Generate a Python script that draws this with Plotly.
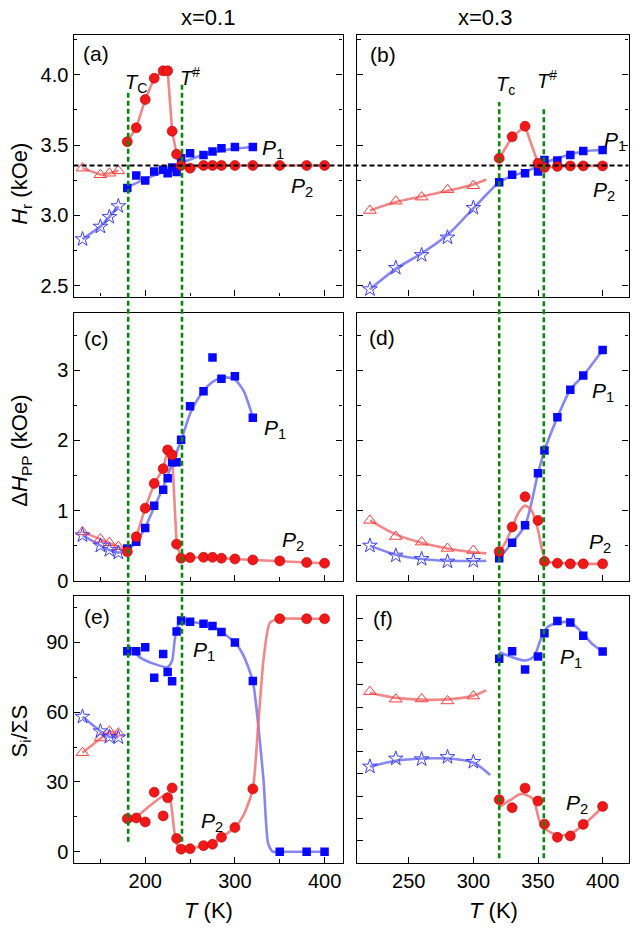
import plotly.graph_objects as go

# ================= DATA =================
# ---- x = 0.1 ----
T1 = [180, 190, 200, 210, 220, 225, 230, 235, 240, 250, 265, 275, 285, 300, 320, 350, 380, 400]
T1_P1 = T1[:15]
T1_low = [130, 150, 160, 170]

Hr_P2_01 = [3.524, 3.623, 3.824, 3.975, 4.028, 4.028, 3.599, 3.435, 3.355, 3.336, 3.355, 3.355, 3.355, 3.355, 3.355, 3.355, 3.355, 3.355]
Hr_P1_01 = [3.195, 3.284, 3.249, 3.313, 3.324, 3.299, 3.341, 3.308, 3.406, 3.442, 3.430, 3.454, 3.477, 3.486, 3.486]
Hr_tri_01 = [3.336, 3.289, 3.300, 3.317]
Hr_star_01 = [2.831, 2.920, 2.989, 3.066]
Hr_P1_fit_T01 = [180, 200, 220, 240, 260, 280, 300, 320]
Hr_P1_fit_01 = [3.20, 3.26, 3.31, 3.37, 3.42, 3.455, 3.475, 3.487]

dH_P2_01 = [0.414, 0.625, 1.034, 1.386, 1.597, 1.865, 1.794, 0.521, 0.320, 0.329, 0.333, 0.333, 0.320, 0.310, 0.296, 0.282, 0.259, 0.249]
dH_P1_01 = [0.46, 0.555, 0.752, 1.07, 1.296, 1.461, 1.69, 1.69, 2.01, 2.489, 2.70, 3.183, 2.879, 2.915, 2.324]
dH_tri_01 = [0.696, 0.592, 0.541, 0.485]
dH_star_01 = [0.648, 0.50, 0.437, 0.40]
dH_P1_fit_T01 = [180, 190, 200, 210, 220, 230, 240, 250, 260, 270, 280, 290, 300, 310, 320]
dH_P1_fit_01 = [0.44, 0.55, 0.76, 1.05, 1.33, 1.67, 2.0, 2.38, 2.62, 2.78, 2.87, 2.9, 2.87, 2.7, 2.33]

S_P1_01 = [86.2, 86.2, 87.9, 74.8, 85.0, 77.3, 73.3, 94.7, 99.5, 98.9, 98.1, 97.1, 94.5, 90.0, 73.4, 0.0, 0.0, 0.0]
S_P2_01 = [14.2, 14.5, 12.8, 25.6, 15.4, 23.2, 27.4, 5.7, 1.1, 1.3, 2.6, 3.2, 6.2, 10.4, 27.0, 100.2, 100.2, 100.2]
S_tri_01 = [42.6, 48.9, 51.8, 51.0]
S_star_01 = [58.1, 51.8, 49.4, 49.2]
S_P1_fit_T01 = [180, 194, 210, 225, 230, 233, 237, 240, 250, 265, 275, 285, 300, 310, 320, 326, 332, 337, 342, 350, 380, 400]
S_P1_fit_01 = [89.3, 83.6, 80.8, 79.4, 82.2, 91.4, 97.8, 99.5, 98.9, 98.0, 97.0, 94.5, 90.0, 84.0, 73.4, 54.6, 30.5, 3.6, 0.0, 0.0, 0.0, 0.0]
S_P2_fit_T01 = [180, 195, 210, 225, 229, 232, 235, 240, 250, 265, 275, 285, 300, 310, 320, 326, 332, 339, 350, 380, 400]
S_P2_fit_01 = [12.1, 16.5, 21.3, 24.9, 20.0, 10.0, 3.6, 1.0, 1.3, 2.6, 3.5, 6.2, 10.4, 16.0, 27.0, 54.6, 82.9, 98.5, 100.2, 100.2, 100.2]

# ---- x = 0.3 ----
T3 = [320, 330, 340, 350, 355, 365, 375, 385, 400]
T3_low = [220, 240, 260, 280, 300]
T3_low_fit = [220, 240, 260, 280, 300, 310]

Hr_P2_03 = [3.406, 3.559, 3.634, 3.371, 3.341, 3.348, 3.352, 3.352, 3.352]
Hr_P1_03 = [3.235, 3.289, 3.300, 3.313, 3.394, 3.390, 3.430, 3.458, 3.465]
Hr_tri_03 = [3.035, 3.101, 3.130, 3.183, 3.211]
Hr_star_03 = [2.475, 2.627, 2.718, 2.843, 3.054]
Hr_tri_fit_03 = [3.035, 3.095, 3.135, 3.175, 3.22, 3.255]
Hr_P1_fit_T03 = [220, 240, 260, 280, 300, 320, 330, 340, 350, 360, 370, 380, 390, 400]
Hr_P1_fit_03 = [2.475, 2.62, 2.73, 2.86, 3.05, 3.235, 3.28, 3.31, 3.35, 3.39, 3.42, 3.445, 3.46, 3.465]

dH_P1_03 = [0.32, 0.541, 0.789, 1.531, 1.855, 2.329, 2.724, 2.925, 3.29]
dH_P2_03 = [0.414, 0.766, 1.197, 0.859, 0.273, 0.249, 0.24, 0.24, 0.24]
dH_tri_03 = [0.86, 0.63, 0.55, 0.46, 0.43]
dH_star_03 = [0.50, 0.358, 0.31, 0.273, 0.282]
dH_tri_fit_03 = [0.86, 0.66, 0.54, 0.46, 0.405, 0.39]
dH_star_fit_03 = [0.50, 0.37, 0.31, 0.285, 0.28, 0.285]
dH_P2_fit_T03 = [319, 325, 330, 335, 340, 345, 350, 353, 356, 360, 370, 380, 390, 400]
dH_P2_fit_03 = [0.38, 0.55, 0.76, 0.97, 1.07, 1.0, 0.72, 0.45, 0.29, 0.26, 0.25, 0.245, 0.24, 0.24]

S_P1_03 = [81.8, 85.2, 76.9, 82.8, 93.2, 98.8, 98.1, 92.1, 85.0]
S_P2_03 = [18.4, 14.8, 23.6, 17.8, 7.4, 1.5, 2.1, 7.3, 15.4]
S_tri_03 = [67.0, 63.6, 63.7, 62.8, 65.0]
S_star_03 = [33.3, 36.9, 36.6, 37.6, 35.4]
S_tri_fit_03 = [66.5, 64.2, 63.4, 63.5, 65.2, 67.7]
S_star_fit_T03 = [220, 240, 260, 280, 300, 313]
S_star_fit_03 = [33.3, 35.9, 36.9, 36.9, 35.1, 29.5]
S_P1_fit_T03 = [320, 330, 340, 347, 352, 357, 365, 375, 385, 392, 400]
S_P1_fit_03 = [84.7, 82.5, 81.0, 83.0, 90.4, 95.9, 97.8, 98.1, 92.9, 88.4, 85.0]
S_P2_fit_T03 = [320, 330, 337, 346, 351, 355, 364, 374, 385, 400]
S_P2_fit_03 = [15.1, 18.8, 21.0, 18.8, 9.2, 5.5, 2.8, 2.8, 7.0, 15.1]

T_C_01, T_H_01 = 181, 241
T_C_03, T_H_03 = 320, 354.5
H_RES = 3.355

# ================= FIGURE =================
W, H = 635, 947
FONT = "Liberation Sans, Arial, sans-serif"
RED = "#f01818"
BLUE = "#0808ff"
RLINE = "rgba(240,105,105,0.8)"
BLINE = "rgba(105,105,240,0.8)"
TRI = "#ff3c3c"
STAR = "#3c3cff"

def px(x, y):
    return x / W, 1 - y / H

fig = go.Figure()

def line(xs, ys, color, ax, shape="linear", smoothing=0.8):
    xa, ya = ax
    fig.add_trace(go.Scatter(x=xs, y=ys, mode="lines", xaxis=xa, yaxis=ya,
                             line=dict(color=color, width=2.6, shape=shape, smoothing=smoothing),
                             showlegend=False, hoverinfo="skip"))

def pts(xs, ys, kind, ax):
    xa, ya = ax
    if kind == "circ":
        m = dict(symbol="circle", size=10, color=RED, line=dict(color="#c00000", width=0.6))
    elif kind == "sq":
        m = dict(symbol="square", size=8.5, color=BLUE, line=dict(width=0))
    elif kind == "tri":
        m = dict(symbol="triangle-up-open", size=11, color=TRI, line=dict(color=TRI, width=1))
    else:
        m = dict(symbol="star-open", size=11, color=STAR, line=dict(color=STAR, width=1))
    fig.add_trace(go.Scatter(x=xs, y=ys, mode="markers", xaxis=xa, yaxis=ya, marker=m,
                             showlegend=False, hoverinfo="skip"))

A = ("x", "y"); B = ("x2", "y2"); C = ("x3", "y3"); D = ("x4", "y4"); E = ("x5", "y5"); F = ("x6", "y6")

# (a)
line(T1_low, Hr_tri_01, RLINE, A)
line(T1_low, Hr_star_01, BLINE, A)
line(T1, Hr_P2_01, RLINE, A)
line(Hr_P1_fit_T01, Hr_P1_fit_01, BLINE, A, "spline")
pts(T1_low, Hr_tri_01, "tri", A)
pts(T1_low, Hr_star_01, "star", A)
pts(T1_P1, Hr_P1_01, "sq", A)
pts(T1, Hr_P2_01, "circ", A)

# (b)
line(T3_low_fit, Hr_tri_fit_03, RLINE, B, "spline")
line(Hr_P1_fit_T03, Hr_P1_fit_03, BLINE, B, "spline")
line(T3, Hr_P2_03, RLINE, B)
pts(T3_low, Hr_tri_03, "tri", B)
pts(T3_low, Hr_star_03, "star", B)
pts(T3, Hr_P1_03, "sq", B)
pts(T3, Hr_P2_03, "circ", B)

# (c)
line(T1_low + T1, dH_tri_01 + dH_P2_01, RLINE, C)
line(T1_low + dH_P1_fit_T01, dH_star_01 + dH_P1_fit_01, BLINE, C, "spline", 0.6)
pts(T1_low, dH_tri_01, "tri", C)
pts(T1_low, dH_star_01, "star", C)
pts(T1_P1, dH_P1_01, "sq", C)
pts(T1, dH_P2_01, "circ", C)

# (d)
line(T3_low_fit, dH_tri_fit_03, RLINE, D, "spline")
line(T3_low_fit, dH_star_fit_03, BLINE, D, "spline")
line(T3, dH_P1_03, BLINE, D, "spline")
line(dH_P2_fit_T03, dH_P2_fit_03, RLINE, D, "spline")
pts(T3_low, dH_tri_03, "tri", D)
pts(T3_low, dH_star_03, "star", D)
pts(T3, dH_P1_03, "sq", D)
pts(T3, dH_P2_03, "circ", D)

# (e)
line(T1_low, S_tri_01, RLINE, E)
line(T1_low, S_star_01, BLINE, E)
line(S_P1_fit_T01, S_P1_fit_01, BLINE, E, "spline", 0.6)
line(S_P2_fit_T01, S_P2_fit_01, RLINE, E, "spline", 0.6)
pts(T1_low, S_tri_01, "tri", E)
pts(T1_low, S_star_01, "star", E)
pts(T1, S_P1_01, "sq", E)
pts(T1, S_P2_01, "circ", E)

# (f)
line(T3_low_fit, S_tri_fit_03, RLINE, F, "spline")
line(S_star_fit_T03, S_star_fit_03, BLINE, F, "spline")
line(S_P1_fit_T03, S_P1_fit_03, BLINE, F, "spline")
line(S_P2_fit_T03, S_P2_fit_03, RLINE, F, "spline")
pts(T3_low, S_tri_03, "tri", F)
pts(T3_low, S_star_03, "star", F)
pts(T3, S_P1_03, "sq", F)
pts(T3, S_P2_03, "circ", F)

# ---- axes ----
xL = [73.5 / W, 342.5 / W]
xR = [357 / W, 628.5 / W]
r1 = [1 - 300 / H, 1 - 35 / H]
r2 = [1 - 587.5 / H, 1 - 316.5 / H]
r3 = [1 - 873 / H, 1 - 603 / H]

common = dict(showline=True, linecolor="black", linewidth=1.2, ticks="inside", tickcolor="black",
              ticklen=6, tickwidth=1.2, showgrid=False, zeroline=False,
              tickfont=dict(family=FONT, size=20, color="black"))
minor_style = dict(ticks="inside", ticklen=3.5, tickcolor="black", tickwidth=1.2, showgrid=False)

def xleft(dom_y_anchor, labels):
    return dict(common, domain=xL, range=[120, 420], tick0=0, dtick=100, mirror=True,
                minor=dict(minor_style, tick0=0, dtick=50), anchor=dom_y_anchor, showticklabels=labels)

def xright(dom_y_anchor, labels):
    return dict(common, domain=xR, range=[210, 420], tick0=0, dtick=50, mirror=True,
                anchor=dom_y_anchor, showticklabels=labels)

fig.update_layout(
    xaxis=xleft("y", False), xaxis2=xright("y2", False),
    xaxis3=xleft("y3", False), xaxis4=xright("y4", False),
    xaxis5=xleft("y5", True), xaxis6=xright("y6", True),
    yaxis=dict(common, domain=r1, range=[2.423, 4.286], tick0=0, dtick=0.5, tickformat=".1f",
               minor=dict(minor_style, tick0=0, dtick=0.25), mirror="ticks", anchor="x"),
    yaxis2=dict(common, domain=r1, range=[2.423, 4.286], tick0=0, dtick=0.5, showticklabels=False,
                minor=dict(minor_style, tick0=0, dtick=0.25), mirror="ticks", anchor="x2"),
    yaxis3=dict(common, domain=r2, range=[0, 3.82], tick0=0, dtick=1,
                minor=dict(minor_style, tick0=0, dtick=0.5), mirror="ticks", anchor="x3"),
    yaxis4=dict(common, domain=r2, range=[0, 3.82], tick0=0, dtick=1, showticklabels=False,
                minor=dict(minor_style, tick0=0, dtick=0.5), mirror="ticks", anchor="x4"),
    yaxis5=dict(common, domain=r3, range=[-4.8, 110], tick0=0, dtick=30,
                minor=dict(minor_style, tick0=0, dtick=15), mirror=True, anchor="x5"),
    yaxis6=dict(common, domain=r3, range=[-10, 110], tick0=0, dtick=10, showticklabels=False,
                mirror=True, anchor="x6"),
)

# ---- reference lines ----
shapes = []
y_bot_L = 1 - 851.7 / H
for T, ytop in [(T_C_01, 93.3), (T_H_01, 85.0)]:
    shapes.append(dict(type="line", xref="x", yref="paper", x0=T, x1=T, y0=y_bot_L, y1=1 - ytop / H,
                       line=dict(color="#0a8a0a", width=2.6, dash="5px,3px"), layer="above"))
y_bot_R = 1 - 868.3 / H
for T, ytop in [(T_C_03, 103.3), (T_H_03, 108.3)]:
    shapes.append(dict(type="line", xref="x2", yref="paper", x0=T, x1=T, y0=y_bot_R, y1=1 - ytop / H,
                       line=dict(color="#0a8a0a", width=2.6, dash="5px,3px"), layer="above"))
shapes.append(dict(type="line", xref="paper", yref="y", x0=xL[0], x1=xR[1], y0=H_RES, y1=H_RES,
                   line=dict(color="black", width=2.2, dash="5px,3px"), layer="above"))
fig.update_layout(shapes=shapes)

# ---- text ----
ann = []
def text(s, x, y, size=21, xanchor="left", yanchor="middle", angle=0):
    X, Y = px(x, y)
    ann.append(dict(text=s, x=X, y=Y, xref="paper", yref="paper", showarrow=False,
                    xanchor=xanchor, yanchor=yanchor, textangle=angle,
                    font=dict(family=FONT, size=size, color="black")))

text("x=0.1", 208, 18, size=22, xanchor="center")
text("x=0.3", 485, 18, size=22, xanchor="center")
text("<i>T</i> (K)", 208, 921, size=22, xanchor="center")
text("<i>T</i> (K)", 493, 921, size=22, xanchor="center")
text("<i>H</i><sub>r</sub> (kOe)", 21, 186, size=22, xanchor="center", angle=-90)
text("Δ<i>H</i><sub>PP</sub> (kOe)", 21, 456, size=22, xanchor="center", angle=-90)
text("S<sub>i</sub>/ΣS", 21, 740, size=22, xanchor="center", angle=-90)

text("(a)", 80.7, 54); text("(b)", 368.3, 55); text("(c)", 81.7, 342.5)
text("(d)", 366.7, 341.7); text("(e)", 81.7, 624); text("(f)", 370.7, 625.8)

text("<i>T</i><sub>C</sub>", 123.3, 84, size=20)
text("<i>T</i><sup>#</sup>", 178.3, 77, size=20)
text("<i>T</i><sub>c</sub>", 494, 87, size=20)
text("<i>T</i><sup>#</sup>", 535, 80, size=20)

for s, x, y in [("1", 260, 149), ("2", 289.3, 187.3), ("1", 601.7, 140.5), ("2", 590.7, 191.7),
                ("1", 261.7, 431.7), ("2", 280, 545.8), ("1", 590, 395), ("2", 586.7, 547.5),
                ("1", 190.7, 656.7), ("2", 199.3, 830), ("1", 558.3, 663.3), ("2", 564, 811.7)]:
    text("<i>P</i><sub>%s</sub>" % s, x, y + 2)

fig.update_layout(annotations=ann, width=W, height=H, margin=dict(l=0, r=0, t=0, b=0),
                  paper_bgcolor="white", plot_bgcolor="white", showlegend=False)

fig.write_html("out.html", config={"displayModeBar": False},
               post_script="document.body.style.margin='0px';")
